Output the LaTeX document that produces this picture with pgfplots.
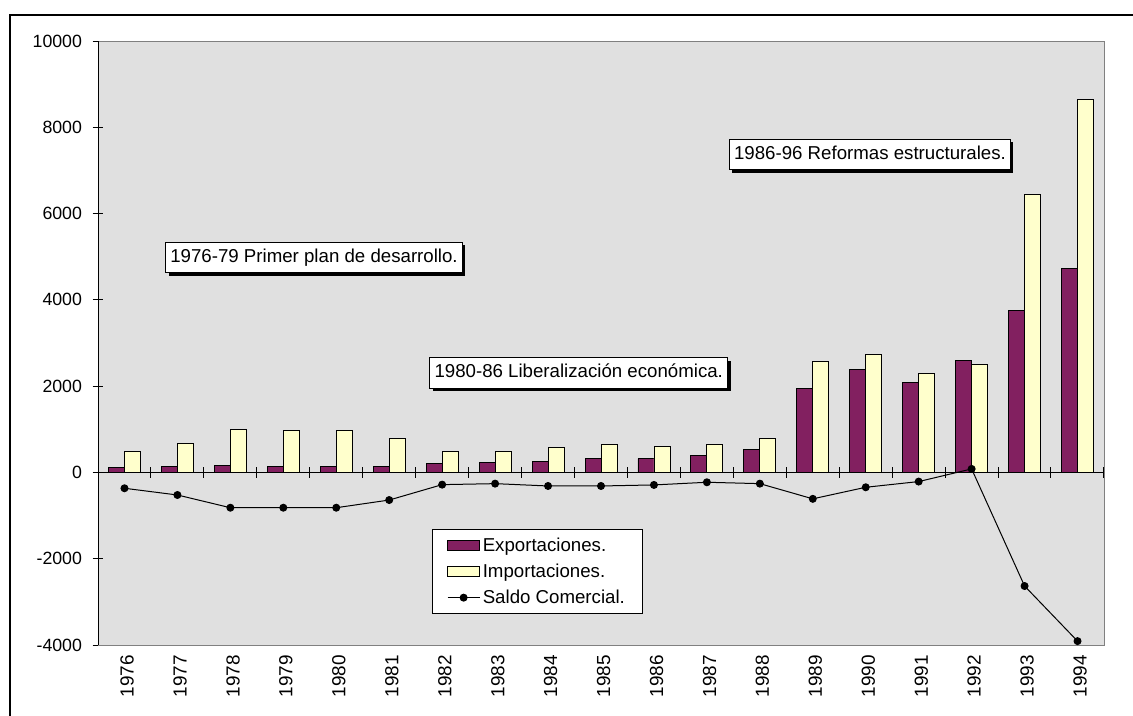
\documentclass[border=0pt]{standalone}
\usepackage{pgfplots}
\pgfplotsset{compat=1.18}
\usepackage{fontspec}
\setmainfont{Liberation Sans}
\usetikzlibrary{shadows}
\definecolor{expc}{RGB}{130,32,96}
\definecolor{impc}{RGB}{255,255,204}
\definecolor{bgc}{RGB}{224,224,224}
\pgfplotstableread{
year exp imp saldo
1976 110 495 -367
1977 140 675 -523
1978 170 1000 -818
1979 140 970 -818
1980 140 970 -818
1981 140 790 -640
1982 200 495 -283
1983 230 495 -260
1984 255 575 -314
1985 320 645 -314
1986 320 610 -290
1987 400 645 -228
1988 530 785 -260
1989 1940 2563 -612
1990 2386 2742 -344
1991 2084 2298 -212
1992 2600 2509 81
1993 3756 6435 -2633
1994 4735 8642 -3910
}\datatab
\pgfplotsset{myax/.style={
  scale only axis, width=754.5pt, height=453pt,
  at={(73.5pt,52.5pt)}, anchor=south west,
  xmin=1975.5, xmax=1994.5, ymin=-4000, ymax=10000,
  scaled y ticks=false,
  /pgf/number format/.cd, 1000 sep={}, assume math mode=true, /pgfplots/.cd,
  tick align=center, major tick length=8pt,
},
barleg/.style={legend image code/.code={\draw[##1] (0pt,-4pt) rectangle (24pt,4pt);}},
lineleg/.style={legend image code/.code={\draw[##1, mark repeat=2, mark phase=2] plot coordinates {(0pt,0pt) (12pt,0pt) (24pt,0pt)};}}
}
\begin{document}
\begin{tikzpicture}[font=\fontsize{14}{16.8}\selectfont]
\useasboundingbox (0,0) rectangle (849.75pt,536.25pt);
\draw[line width=1.8pt] (7.5pt,-2pt) -- (7.5pt,525pt) -- (852pt,525pt);
% background and zero line with category separators
\begin{axis}[myax,
  axis background/.style={fill=bgc},
  axis x line=middle, axis y line=none,
  x axis line style={-, black, line width=0.7pt},
  xtick={1975.5,1976.5,...,1994.5}, xticklabels={},
  x tick style={black, line width=0.7pt},
  ytick=\empty]
\addplot[draw=none] coordinates {(1976,0)};
\end{axis}
\begin{axis}[myax,
  axis line style={draw=gray, line width=0.7pt},
  xtick={1976,...,1994},
  x tick label style={rotate=90, anchor=east, yshift=-2pt, font=\fontsize{14.2}{17}\selectfont},
  major x tick style={draw=none},
  ytick={-4000,-2000,...,10000},
  ytick pos=left,
  y tick style={black, line width=0.7pt},
  yticklabel style={xshift=-4.5pt, font=\fontsize{13.3}{16}\selectfont},
  legend style={at={(0.332,0.192)}, anchor=north west, draw=black, fill=white,
    line width=0.7pt, inner xsep=11pt, inner ysep=4pt, row sep=4pt,
    font=\fontsize{14}{16.8}\selectfont},
  legend cell align=left]
\addplot[ybar, bar width=12pt, bar shift=-6pt, fill=expc, draw=black, line width=0.6pt, barleg]
  table[x=year, y=exp] {\datatab};
\addlegendentry{Exportaciones.}
\addplot[ybar, bar width=12pt, bar shift=6pt, fill=impc, draw=black, line width=0.6pt, barleg]
  table[x=year, y=imp] {\datatab};
\addlegendentry{Importaciones.}
\addplot[black, line width=0.75pt, mark=*, mark size=2.6pt, lineleg]
  table[x=year, y=saldo] {\datatab};
\addlegendentry{Saldo Comercial.}
\draw[black, line width=0.7pt] (rel axis cs:0,0) -- (rel axis cs:0,1);
\tikzset{ann/.style={draw=black, line width=0.7pt, fill=white, inner xsep=3.5pt, inner ysep=5pt,
  text height=10pt, text depth=3pt,
  drop shadow={shadow xshift=2.2pt, shadow yshift=-2.2pt, fill=black, opacity=1}}}
\node[ann] at (axis cs:1979.58,4981) {1976-79 Primer plan de desarrollo.};
\node[ann] at (axis cs:1984.58,2304) {1980-86 Liberalización económica.};
\node[ann] at (axis cs:1990.08,7369) {1986-96 Reformas estructurales.};
\end{axis}
\end{tikzpicture}
\end{document}
